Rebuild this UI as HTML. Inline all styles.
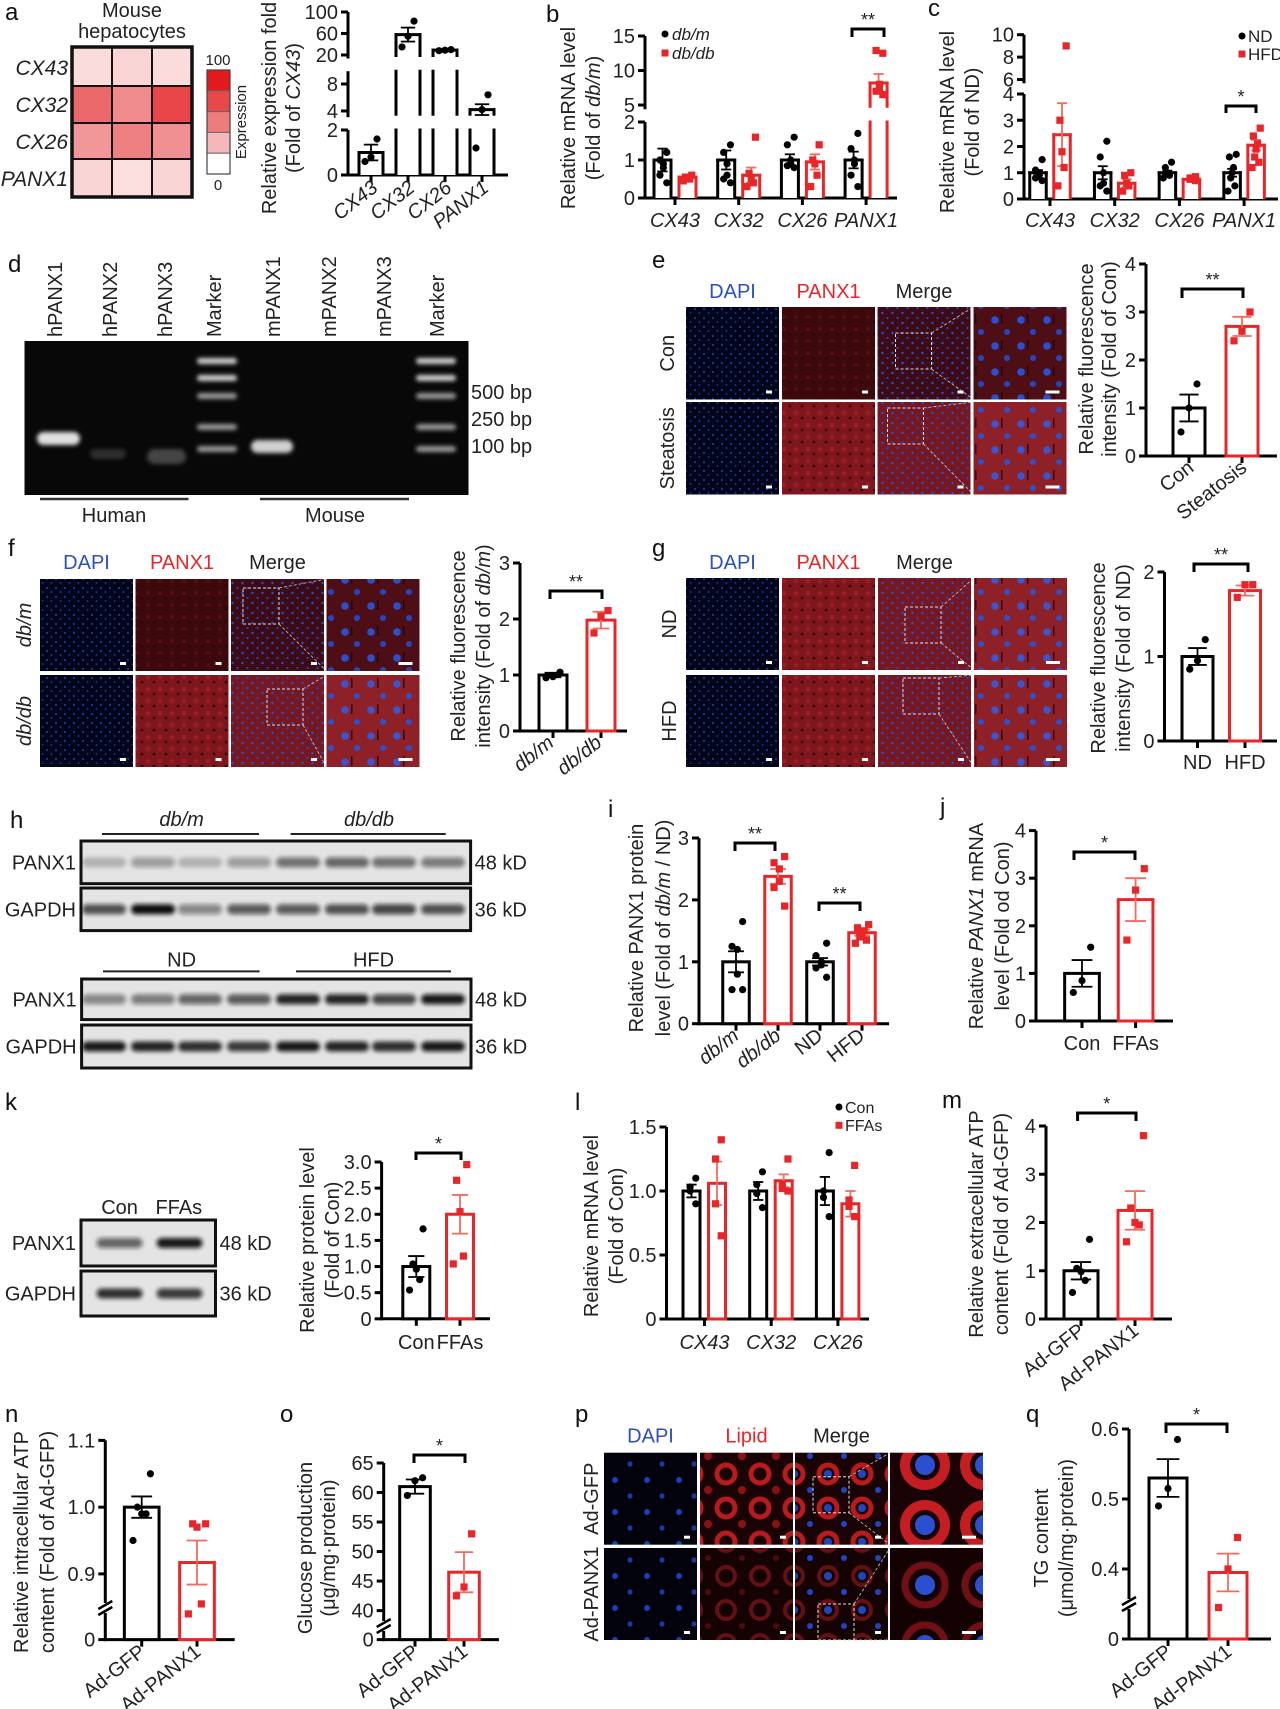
<!DOCTYPE html>
<html><head><meta charset="utf-8"><style>
html,body{margin:0;padding:0;background:#fff;}
svg{display:block;font-family:"Liberation Sans",sans-serif;}
</style></head><body>
<svg id="fig" xmlns="http://www.w3.org/2000/svg" width="1280" height="1709" viewBox="0 0 1280 1709">
<defs>
<filter id="blur3" x="-50%" y="-100%" width="200%" height="300%"><feGaussianBlur stdDeviation="3"/></filter>
<filter id="blur2" x="-50%" y="-100%" width="200%" height="300%"><feGaussianBlur stdDeviation="2"/></filter>
<pattern id="dapi" width="9" height="9" patternUnits="userSpaceOnUse"><rect width="9" height="9" fill="#03061a"/><circle cx="2" cy="3" r="1" fill="#2040b8"/><circle cx="6.5" cy="7" r="0.9" fill="#1c38a8"/></pattern>
<pattern id="panxLo" width="12" height="12" patternUnits="userSpaceOnUse"><rect width="12" height="12" fill="#3e090d"/><circle cx="4" cy="5" r="2" fill="#520d12"/><circle cx="10" cy="10" r="1.2" fill="#2a0406"/></pattern>
<pattern id="panxHi" width="12" height="12" patternUnits="userSpaceOnUse"><rect width="12" height="12" fill="#7e171d"/><circle cx="4" cy="5" r="2.4" fill="#961f25"/><circle cx="10" cy="10" r="1.4" fill="#3a0608"/></pattern>
<pattern id="mergeLo" width="10" height="10" patternUnits="userSpaceOnUse"><rect width="10" height="10" fill="#3c0b15"/><circle cx="2.5" cy="3" r="1.2" fill="#2a4fd0"/><circle cx="7.5" cy="8" r="1.1" fill="#2546c0"/></pattern>
<pattern id="mergeHi" width="10" height="10" patternUnits="userSpaceOnUse"><rect width="10" height="10" fill="#761822"/><circle cx="2.5" cy="3" r="1.2" fill="#2a4fd0"/><circle cx="7.5" cy="8" r="1.1" fill="#2546c0"/></pattern>
<pattern id="zoomLo" width="26" height="26" patternUnits="userSpaceOnUse"><rect width="26" height="26" fill="#4e0e16"/><circle cx="7" cy="8" r="3.8" fill="#2a4fd0"/><circle cx="19" cy="20" r="3" fill="#2546c0"/><rect x="13" y="2" width="1.5" height="10" fill="#2a0508"/></pattern>
<pattern id="zoomHi" width="26" height="26" patternUnits="userSpaceOnUse"><rect width="26" height="26" fill="#8e2028"/><circle cx="7" cy="8" r="3.8" fill="#3a55d0"/><circle cx="19" cy="20" r="3" fill="#3050c8"/><rect x="13" y="2" width="1.5" height="10" fill="#3a0608"/></pattern>
<pattern id="pDapi" width="32" height="32" patternUnits="userSpaceOnUse"><rect width="32" height="32" fill="#02030c"/><circle cx="7" cy="8" r="3" fill="#1e3eb4"/><circle cx="22" cy="24" r="2.6" fill="#1a36a0"/></pattern>
<pattern id="pLipHi" width="34" height="34" patternUnits="userSpaceOnUse"><rect width="34" height="34" fill="#1a0304"/><circle cx="12" cy="12" r="9" fill="none" stroke="#b81a1e" stroke-width="5"/><circle cx="28" cy="28" r="4" fill="#8a1216"/></pattern>
<pattern id="pLipLo" width="34" height="34" patternUnits="userSpaceOnUse"><rect width="34" height="34" fill="#150203"/><circle cx="12" cy="12" r="9" fill="none" stroke="#641014" stroke-width="4"/><circle cx="28" cy="28" r="3" fill="#4e0a0c"/></pattern>
<pattern id="pMergeHi" width="34" height="34" patternUnits="userSpaceOnUse"><rect width="34" height="34" fill="#1a0304"/><circle cx="12" cy="12" r="9" fill="none" stroke="#b81a1e" stroke-width="5"/><circle cx="12" cy="12" r="4" fill="#2244c0"/><circle cx="28" cy="28" r="3" fill="#2244c0"/></pattern>
<pattern id="pMergeLo" width="34" height="34" patternUnits="userSpaceOnUse"><rect width="34" height="34" fill="#150203"/><circle cx="12" cy="12" r="9" fill="none" stroke="#641014" stroke-width="4"/><circle cx="12" cy="12" r="4" fill="#2244c0"/><circle cx="28" cy="28" r="3" fill="#2244c0"/></pattern>
<pattern id="pZoomHi" width="60" height="60" patternUnits="userSpaceOnUse"><rect width="60" height="60" fill="#1a0304"/><circle cx="25" cy="25" r="20" fill="none" stroke="#c41e22" stroke-width="10"/><circle cx="25" cy="25" r="10" fill="#2a4fd0"/></pattern>
<pattern id="pZoomLo" width="60" height="60" patternUnits="userSpaceOnUse"><rect width="60" height="60" fill="#140203"/><circle cx="25" cy="25" r="20" fill="none" stroke="#701014" stroke-width="7"/><circle cx="25" cy="25" r="10" fill="#2a4fd0"/></pattern>
</defs>
</svg>
<script>
// ---------------- DATA ----------------
const hmRows = ['CX43','CX32','CX26','PANX1'];
const hmVals = [[15,18,15],[65,50,80],[45,55,48],[18,14,18]];

const aCats = ['CX43','CX32','CX26','PANX1'];
const aVals = [1, 58, 29, 4.2];
const aErr  = [0.35, 13, 2, 0.8];
const aPts  = [[1.6,0.8,0.6],[83,55,35],[30,29,28],[6.4,4.2,1.2]];

const bCats = ['CX43','CX32','CX26','PANX1'];
const bDbm = [1,1,1,1];
const bDbmErr = [0.3,0.25,0.15,0.22];
const bDbmPts = [[1.2,1.0,0.9,0.8,0.6,0.4],[1.4,1.2,0.9,0.6,0.5,0.4],[1.6,1.4,1.0,0.9,0.85,0.8],[1.7,1.3,1.0,0.9,0.6,0.3]];
const bDbdb = [0.55,0.6,0.95,8.2];
const bDbdbErr = [0.05,0.2,0.2,1.3];
const bDbdbPts = [[0.6,0.55,0.5,0.5,0.45],[1.6,0.65,0.5,0.4,0.3],[1.4,1.0,0.9,0.6,0.3],[12.5,12.9,8,7.5,7,6.5]];

const cCats = ['CX43','CX32','CX26','PANX1'];
const cND = [1,1,1,1];
const cNDErr = [0.1,0.25,0.08,0.15];
const cNDPts = [[1.5,1.1,1.0,0.9,0.8,0.7],[2.2,1.6,1.0,0.6,0.5,0.3],[1.4,1.2,1.0,0.9,0.8],[1.7,1.6,1.2,1.0,0.8,0.5,0.3]];
const cHFD = [2.45,0.6,0.75,2.05];
const cHFDErr = [1.2,0.15,0.05,0.2];
const cHFDPts = [[9,3,1.8,1.2,0.5],[1.0,0.9,0.6,0.5,0.3],[0.85,0.8,0.75,0.7],[2.7,2.4,2.1,1.9,1.6,1.4,1.2]];

const eCats = ['Con','Steatosis'];
const eVals = [1, 2.7];
const eErr = [0.28, 0.2];
const ePts = [[1.5,1.0,0.5],[3.0,2.6,2.4]];

const fCats = ['db/m','db/db'];
const fVals = [1, 1.98];
const fErr = [0.04, 0.15];
const fPts = [[1.05,0.97,0.95],[2.15,2.05,1.75]];

const gCats = ['ND','HFD'];
const gVals = [1, 1.78];
const gErr = [0.1, 0.06];
const gPts = [[1.2,0.95,0.85],[1.85,1.85,1.7]];

const iCats = ['db/m','db/db','ND','HFD'];
const iVals = [1, 2.38, 1.0, 1.47];
const iErr = [0.17, 0.12, 0.06, 0.05];
const iPts = [[1.65,1.25,1.2,0.8,0.55,0.55],[2.7,2.6,2.5,2.3,2.2,1.9],[1.3,1.1,1.0,0.95,0.9,0.75],[1.6,1.55,1.5,1.45,1.4,1.35,1.3]];

const jCats = ['Con','FFAs'];
const jVals = [1, 2.55];
const jErr = [0.28, 0.45];
const jPts = [[1.55,0.85,0.6],[3.2,2.75,1.7]];

const kCats = ['Con','FFAs'];
const kVals = [1, 2.0];
const kErr = [0.2, 0.37];
const kPts = [[1.72,1.05,0.95,0.75,0.55],[2.95,2.65,2.05,1.2,1.05]];

const lCats = ['CX43','CX32','CX26'];
const lCon = [1,1,1];
const lConErr = [0.05,0.07,0.11];
const lConPts = [[1.1,1.03,1.0,0.9],[1.15,1.05,0.98,0.87],[1.3,1.0,0.95,0.8]];
const lFFA = [1.06,1.08,0.9];
const lFFAErr = [0.17,0.05,0.1];
const lFFAPts = [[1.4,1.25,0.9,0.65],[1.25,1.05,1.02,1.0],[1.2,0.93,0.88,0.8]];

const mCats = ['Ad-GFP','Ad-PANX1'];
const mVals = [1, 2.25];
const mErr = [0.18, 0.4];
const mPts = [[1.65,1.05,0.98,0.8,0.55],[3.8,2.3,2.0,1.95,1.6]];

const nCats = ['Ad-GFP','Ad-PANX1'];
const nVals = [1.0, 0.917];
const nErr = [0.016, 0.033];
const nPts = [[1.05,1.0,0.99,0.99,0.95],[0.975,0.975,0.97,0.855,0.84]];

const oCats = ['Ad-GFP','Ad-PANX1'];
const oVals = [61, 46.5];
const oErr = [1.2, 3.4];
const oPts = [[62.5,62,59.5],[53,44,42.5]];

const qCats = ['Ad-GFP','Ad-PANX1'];
const qVals = [0.53, 0.395];
const qErr = [0.027, 0.027];
const qPts = [[0.585,0.515,0.49],[0.445,0.4,0.345]];

const blotP1 = [0.22,0.35,0.22,0.35,0.55,0.6,0.55,0.5];
const blotG1 = [0.7,1.0,0.45,0.65,0.65,0.7,0.75,0.7];
const blotP2 = [0.45,0.5,0.6,0.65,0.9,0.9,0.75,0.95];
const blotG2 = [0.95,0.9,0.85,0.8,0.95,0.9,0.85,0.95];
const blotKP = [0.6,0.95];
const blotKG = [0.85,0.8];

// ---------------- HELPERS ----------------
const NS='http://www.w3.org/2000/svg';
const svg=document.getElementById('fig');
const RED='#e8262a', RED2='#f26b5b';
const FS=20;
function el(tag,attrs,parent){const e=document.createElementNS(NS,tag);for(const k in attrs)e.setAttribute(k,attrs[k]);(parent||svg).appendChild(e);return e;}
function line(p,x1,y1,x2,y2,c,w){return el('line',{x1,y1,x2,y2,stroke:c||'#000','stroke-width':w||3},p);}
function T(p,x,y,s,o){o=o||{};const t=el('text',{x,y,'font-size':o.size||FS,'text-anchor':o.anchor||'start',fill:o.fill||'#222'},p);
 if(o.rot)t.setAttribute('transform','rotate('+o.rot+' '+x+' '+y+')');
 if(o.db)t.setAttribute('dominant-baseline',o.db);
 const parts=s.split(/<i>|<\/i>/);parts.forEach((ps,k)=>{if(!ps)return;const sp=el('tspan',{},t);sp.textContent=ps;if((k%2===1)!==!!o.italic)sp.setAttribute('font-style','italic');});
 return t;}
function segScale(segs){return v=>{let s=segs.find(q=>v>=q.d0&&v<=q.d1);if(!s){s=segs[0];segs.forEach(q=>{if(v>q.d1)s=q;});}return s.y0+(v-s.d0)/(s.d1-s.d0)*(s.y1-s.y0);};}
function letter(x,y,s){const t=T(svg,x,y,s,{size:24,fill:'#111'});}
function ytitle(p,x,y,s){return T(p,x,y,s,{rot:-90,anchor:'middle',db:'central'});}

function drawChart(c){
 const g=el('g',{});
 
 
 const y=segScale(c.segs); const y0=c.segs[0].y0;
 if(c.gap){c.segs.forEach(s=>line(g,c.ax,s.y0+1.5,c.ax,s.y1));}
 else line(g,c.ax,y0+1.5,c.ax,c.segs[c.segs.length-1].y1);
 c.ticks.forEach((t,i)=>{const yy=y(t);line(g,c.ax-7,yy,c.ax,yy);const tl=T(g,c.ax-10,yy+7,c.tickLabels[i],{anchor:'end'});});
 line(g,c.ax-1.5,y0,c.xEnd,y0);
 (c.xticks||[]).forEach(x=>line(g,x,y0,x,y0+7));
 c.bars.forEach(b=>{
  const bg=el('g',{},g);
  
  
  const x0=b.cx-b.w/2,x1=b.cx+b.w/2;
  if(c.gap){c.segs.forEach(s=>{const lo=s.d0,hi=Math.min(b.val,s.d1);if(hi<=lo&&lo>0)return;const ys=v=>s.y0+(v-s.d0)/(s.d1-s.d0)*(s.y1-s.y0);
    const ya=ys(Math.max(lo,0)),yb=ys(hi);el('rect',{x:x0,y:yb,width:b.w,height:ya-yb,fill:'#fff'},bg);
    line(bg,x0,ya,x0,yb-1.5,b.color);line(bg,x1,ya,x1,yb-1.5,b.color);
    if(b.val<=s.d1)line(bg,x0-1.5,yb,x1+1.5,yb,b.color);});}
  else{const yv=y(b.val);el('rect',{x:x0,y:yv,width:b.w,height:y0-yv,fill:'#fff',stroke:b.color,'stroke-width':3},bg);}
  const ec=b.color==='#000'?'#000':RED2;const cw=b.w*0.3;
  const et=y(b.val+b.err),eb=y(b.val-b.err);
  line(bg,b.cx,eb,b.cx,et,ec,1.8);line(bg,b.cx-cw,et,b.cx+cw,et,ec,1.8);line(bg,b.cx-cw,eb,b.cx+cw,eb,ec,1.8);
  const n=b.pts.length;b.pts.forEach((v,i)=>{const off=n>1?(i/(n-1)-0.5)*b.w*0.5*((i%2)?1:-1):0;const px=b.cx+off,py=y(v);
   let d;if(b.color==='#000')d=el('circle',{cx:px,cy:py,r:3.6,fill:'#000'},bg);else d=el('rect',{x:px-3.6,y:py-3.6,width:7.2,height:7.2,fill:RED},bg);
   });
 });
 if(c.slashY){const s=c.slashY;el('rect',{x:c.ax-3,y:s-5,width:6,height:10,fill:'#fff'},g);line(g,c.ax-7,s+1,c.ax+7,s-7,'#000',2.5);line(g,c.ax-7,s+7,c.ax+7,s-1,'#000',2.5);}
 (c.sig||[]).forEach(s=>{const p=el('path',{d:`M${s.x1} ${s.y+s.drop}V${s.y}H${s.x2}V${s.y+s.drop}`,fill:'none',stroke:'#000','stroke-width':3},g);
   
   T(g,(s.x1+s.x2)/2,s.y-3,s.label,{anchor:'middle',size:18});});
 (c.labels||[]).forEach(l=>{const t=T(g,l.x,l.y,l.t,{anchor:l.anchor||'middle',rot:l.rot,italic:l.italic});});
 c.titles.forEach(t=>ytitle(g,t[0],t[1],t[2]));
 return g;
}
function simpleBars(cats,vals,errs,pts,cx0,step,w,colors){return cats.map((k,i)=>({name:k,cx:cx0+i*step,w,color:colors[i],val:vals[i],err:errs[i],pts:pts[i]}));}
function groupBars(cats,series,gx0,gstep,offs,w){const out=[];cats.forEach((k,i)=>series.forEach((s,j)=>out.push({name:k+'-'+s.n,cx:gx0+i*gstep+offs[j],w,color:s.c,val:s.v[i],err:s.e[i],pts:s.p[i]})));return out;}
function rotLabels(cats,cx0,step,y,italicFn,dx){return cats.map((k,i)=>({t:k,x:cx0+i*step+(dx||4),y,rot:-38,anchor:'end',italic:italicFn?italicFn(k):false}));}
function hLabels(cats,cx0,step,y,italic){return cats.map((k,i)=>({t:k,x:cx0+i*step,y,italic}));}

// ---------------- PANEL A ----------------
letter(5,20,'a');
{const g=el('g',{});
 T(g,132,17,'Mouse',{anchor:'middle',size:20});T(g,132,38,'hepatocytes',{anchor:'middle',size:20});
 const cx=[72,112,152,192],ry=[47,86,123,159,197];
 hmVals.forEach((row,r)=>row.forEach((v,k)=>{const f=v/100;const col=`rgb(${Math.round(255-(255-226)*f)},${Math.round(255-(255-24)*f)},${Math.round(255-(255-28)*f)})`;
  const c=el('rect',{x:cx[k],y:ry[r],width:cx[k+1]-cx[k],height:ry[r+1]-ry[r],fill:col,stroke:'#111','stroke-width':2},g);
  }));
 el('rect',{x:72,y:47,width:120,height:150,fill:'none',stroke:'#111','stroke-width':3.5},g);
 hmRows.forEach((r,k)=>T(g,68,[75,112,149,186][k],r,{anchor:'end',italic:true,size:21}));
 const cb=['#e31a1c','#e84848','#ee7c7c','#f4b8ba','#ffffff'];
 cb.forEach((c,k)=>el('rect',{x:207,y:70+k*20.8,width:23,height:20.8,fill:c,stroke:'#666','stroke-width':1},g));
 el('rect',{x:207,y:70,width:23,height:104,fill:'none',stroke:'#444','stroke-width':1.2},g);
 T(g,218,65,'100',{anchor:'middle',size:15});T(g,218,190,'0',{anchor:'middle',size:15});
 T(g,241,122,'Expression',{rot:-90,anchor:'middle',db:'central',size:15});
}
drawChart({name:'chart-a',ax:348,xEnd:508,gap:true,
 segs:[{d0:0,d1:2,y0:175,y1:130},{d0:3.3,d1:9.9,y0:115.7,y1:71.2},{d0:16.3,d1:100,y0:57,y1:12}],
 ticks:[0,2,4,8,20,60,100],tickLabels:['0','2','4','8','20','60','100'],
 bars:simpleBars(aCats,aVals,aErr,aPts,371,37,24,['#000','#000','#000','#000']),
 xticks:[371,408,445,482],
 labels:rotLabels(aCats,371,37,190,()=>true,8),
 titles:[[270,108,'Relative expression fold'],[294,108,'(Fold of <i>CX43</i>)']]});

// ---------------- PANEL B ----------------
letter(546,22,'b');
drawChart({name:'chart-b',ax:645,xEnd:897,gap:true,
 segs:[{d0:0,d1:2,y0:198,y1:122},{d0:4.6,d1:15,y0:107.8,y1:36}],
 ticks:[0,1,2,5,10,15],tickLabels:['0','1','2','5','10','15'],
 bars:groupBars(bCats,[{n:'dbm',c:'#000',v:bDbm,e:bDbmErr,p:bDbmPts},{n:'dbdb',c:RED,v:bDbdb,e:bDbdbErr,p:bDbdbPts}],675,63.7,[-12.5,12.5],17),
 xticks:[675,738.7,802.4,866.1],
 sig:[{x1:852,x2:884,y:29,drop:8,label:'**'}],
 labels:hLabels(bCats,675,63.7,227,true),
 titles:[[569,118,'Relative mRNA level'],[594,118,'(Fold of <i>db/m</i>)']]});
{const g=el('g',{});
 el('circle',{cx:665,cy:34,r:3.5,fill:'#000'},g);T(g,672,40,'db/m',{italic:true,size:17});
 el('rect',{x:661.5,y:49.5,width:7,height:7,fill:RED},g);T(g,672,59,'db/db',{italic:true,size:17});}

// ---------------- PANEL C ----------------
letter(928,16,'c');
drawChart({name:'chart-c',ax:1024,xEnd:1278,gap:true,
 segs:[{d0:0,d1:4,y0:199,y1:94},{d0:5.8,d1:10,y0:81.8,y1:34.7}],
 ticks:[0,1,2,3,4,6,8,10],tickLabels:['0','1','2','3','4','6','8','10'],
 bars:groupBars(cCats,[{n:'nd',c:'#000',v:cND,e:cNDErr,p:cNDPts},{n:'hfd',c:RED,v:cHFD,e:cHFDErr,p:cHFDPts}],1050,64.7,[-12,12],16.5),
 xticks:[1050,1114.7,1179.4,1244.1],
 sig:[{x1:1226,x2:1256,y:106,drop:7,label:'*'}],
 labels:hLabels(cCats,1050,64.7,227,true),
 titles:[[948,122,'Relative mRNA level'],[973,122,'(Fold of ND)']]});
{const g=el('g',{});
 el('circle',{cx:1242,cy:36,r:3.5,fill:'#000'},g);T(g,1248,42,'ND',{size:17});
 el('rect',{x:1238.5,y:50.5,width:7,height:7,fill:RED},g);T(g,1248,60,'HFD',{size:17});}

// ---------------- PANEL D (gel) ----------------
letter(8,272,'d');
{const g=el('g',{});
 const lanes=['hPANX1','hPANX2','hPANX3','Marker','mPANX1','mPANX2','mPANX3','Marker'];
 const lx=[55,110,165,214,273,329,384,437];
 lanes.forEach((l,k)=>{const t=T(g,lx[k]+7,337,l,{rot:-90,size:20});});
 el('rect',{x:24.5,y:341,width:444,height:154,fill:'#080808'},g);
 const band=(x,y,w,h,c)=>el('rect',{x,y,width:w,height:h,rx:h/2,fill:c,filter:'url(#blur2)'},g);
 band(37,432,43,13,'#e0e0e0');band(90,449,36,10,'#2e2e2e');band(147,449,39,15,'#444');band(251,440,42,13,'#d0d0d0');
 [361,378,396,427,449].forEach((yy,k)=>{band(197,yy-3,40,6,k<2?'#d0d0d0':'#999');band(416,yy-3,40,6,k<2?'#d0d0d0':'#999');});
 [['500 bp',399],['250 bp',426],['100 bp',453]].forEach(a=>T(g,471,a[1],a[0],{size:20}));
 line(g,40,499,188.5,499,'#333',2.5);line(g,260,499,409,499,'#333',2.5);
 T(g,114,522,'Human',{anchor:'middle',size:20});T(g,335,522,'Mouse',{anchor:'middle',size:20});
}

// ---------------- MICROGRAPHS ----------------
function micro(name,cols,rows,w,h,fills,boxes,headers,headY,rowLabels,rowLabX,rowItalic){
 const g=el('g',{});
 const hc=['#2b4fc0','#e8262a','#222'];
 headers.forEach((hd,k)=>T(g,cols[k]+w/2,headY,hd,{anchor:'middle',size:20,fill:hc[k]}));
 rows.forEach((ry,r)=>{cols.forEach((cx,k)=>{const im=el('rect',{x:cx,y:ry,width:w,height:h,fill:'url(#'+fills[r][k]+')'},g);
   
   const sb=k===3?14:6;el('rect',{x:cx+w-sb-7,y:ry+h-9,width:sb,height:3,fill:'#fff'},g);});
  const b=boxes[r];const dx=cols[2]+b[0],dy=ry+b[1];
  el('rect',{x:dx,y:dy,width:36,height:36,fill:'none',stroke:'#ddd','stroke-width':1,'stroke-dasharray':'3,2'},g);
  line(g,dx+36,dy,cols[3],ry,'#ccc',0.8).setAttribute('stroke-dasharray','3,2');
  line(g,dx+36,dy+36,cols[3],ry+h,'#ccc',0.8).setAttribute('stroke-dasharray','3,2');
  T(g,rowLabX,ry+h/2,rowLabels[r],{rot:-90,anchor:'middle',db:'central',size:20,italic:rowItalic});
 });
}
letter(652,268,'e');
micro('micrographs-e',[686,782,877.5,973.5],[307,402],93,92.5,[['dapi','panxLo','mergeLo','zoomLo'],['dapi','panxHi','mergeHi','zoomHi']],[[18,26],[10,6]],['DAPI','PANX1','Merge'],298,['Con','Steatosis'],668,false);
drawChart({name:'chart-e',ax:1146,xEnd:1277,segs:[{d0:0,d1:4,y0:456,y1:264}],
 ticks:[0,1,2,3,4],tickLabels:['0','1','2','3','4'],
 bars:simpleBars(eCats,eVals,eErr,ePts,1189,53,32,['#000',RED]),xticks:[1189,1242],
 sig:[{x1:1182,x2:1243,y:289,drop:9,label:'**'}],
 labels:rotLabels(eCats,1189,53,470,null,6),
 titles:[[1087,359,'Relative fluorescence'],[1110,359,'intensity (Fold of Con)']]});

letter(8,556,'f');
micro('micrographs-f',[40,135.5,231,326.5],[579,675],93,92,[['dapi','panxLo','mergeLo','zoomLo'],['dapi','panxHi','mergeHi','zoomHi']],[[12,9],[36,14]],['DAPI','PANX1','Merge'],569,['db/m','db/db'],25,true);
drawChart({name:'chart-f',ax:520,xEnd:627,segs:[{d0:0,d1:3,y0:731,y1:563}],
 ticks:[0,1,2,3],tickLabels:['0','1','2','3'],
 bars:simpleBars(fCats,fVals,fErr,fPts,553,48,28,['#000',RED]),xticks:[553,601],
 sig:[{x1:550,x2:602,y:591,drop:8,label:'**'}],
 labels:rotLabels(fCats,553,48,745,()=>true,2),
 titles:[[459,646,'Relative fluorescence'],[484,646,'intensity (Fold of <i>db/m</i>)']]});

letter(652,556,'g');
micro('micrographs-g',[686,782,878,974],[578,675],93,92,[['dapi','panxHi','mergeHi','zoomHi'],['dapi','panxHi','mergeHi','zoomHi']],[[27,29],[25,3]],['DAPI','PANX1','Merge'],569,['ND','HFD'],670,false);
drawChart({name:'chart-g',ax:1164.5,xEnd:1277,segs:[{d0:0,d1:2,y0:741,y1:572}],
 ticks:[0,1,2],tickLabels:['0','1','2'],
 bars:simpleBars(gCats,gVals,gErr,gPts,1197.5,47.5,31,['#000',RED]),xticks:[1197.5,1245],
 sig:[{x1:1194,x2:1248,y:564,drop:8,label:'**'}],
 labels:hLabels(gCats,1197.5,47.5,769,false),
 titles:[[1099,658,'Relative fluorescence'],[1124,658,'intensity (Fold of ND)']]});

// ---------------- PANEL H (blots) ----------------
letter(10,828,'h');
function blot(g,x,y,w,h,vals,lanes,bw,label,kd){
 const b=el('rect',{x,y,width:w,height:h,fill:'#e4e4e4',stroke:'#111','stroke-width':3},g);
 
 vals.forEach((v,k)=>el('rect',{x:lanes[k]-bw/2,y:y+h/2-5,width:bw,height:10,rx:5,fill:'#111','fill-opacity':v,filter:'url(#blur2)'},g));
 T(g,x-5,y+h/2+7,label,{anchor:'end',size:20});T(g,x+w+4,y+h/2+7,kd,{size:20});
}
{const g=el('g',{});
 const lanes=[104,153,200,249,298,347,394,443];
 T(g,181.6,826,'db/m',{anchor:'middle',size:20,italic:true});line(g,102,834,259,834,'#222',2);
 T(g,369,826,'db/db',{anchor:'middle',size:20,italic:true});line(g,290.6,834,445.7,834,'#222',2);
 blot(g,81,841,389.6,42.7,blotP1,lanes,44,'PANX1','48 kD');
 blot(g,81,888,389.6,42.6,blotG1,lanes,44,'GAPDH','36 kD');
 T(g,181.6,966.5,'ND',{anchor:'middle',size:20});line(g,103,971.4,259.6,971.4,'#222',2);
 T(g,373.5,966.5,'HFD',{anchor:'middle',size:20});line(g,296,971.4,451,971.4,'#222',2);
 blot(g,81.6,979,389.4,40.6,blotP2,lanes,44,'PANX1','48 kD');
 blot(g,81.6,1025,389.4,43,blotG2,lanes,44,'GAPDH','36 kD');
}

// ---------------- PANEL I, J ----------------
letter(608,817,'i');
drawChart({name:'chart-i',ax:699,xEnd:889,segs:[{d0:0,d1:3,y0:1023.7,y1:838}],
 ticks:[0,1,2,3],tickLabels:['0','1','2','3'],
 bars:simpleBars(iCats,iVals,iErr,iPts,736,42,26.5,['#000',RED,'#000',RED]),xticks:[736,778,820,862],
 sig:[{x1:735,x2:775,y:843,drop:8,label:'**'},{x1:819,x2:860,y:903,drop:8,label:'**'}],
 labels:rotLabels(iCats,736,42,1038,k=>k.indexOf('db')===0,4),
 titles:[[637,928,'Relative PANX1 protein'],[664,928,'level (Fold of <i>db/m</i> / ND)']]});

letter(940,815,'j');
drawChart({name:'chart-j',ax:1036,xEnd:1173,segs:[{d0:0,d1:4,y0:1021,y1:830.6}],
 ticks:[0,1,2,3,4],tickLabels:['0','1','2','3','4'],
 bars:simpleBars(jCats,jVals,jErr,jPts,1082,53.6,34.7,['#000',RED]),xticks:[1082,1135.6],
 sig:[{x1:1074,x2:1135,y:852,drop:8,label:'*'}],
 labels:hLabels(jCats,1082,53.6,1050,false),
 titles:[[977,926,'Relative <i>PANX1</i> mRNA'],[1003,926,'level  (Fold od Con)']]});

// ---------------- PANEL K ----------------
letter(5,1110,'k');
{const g=el('g',{});
 T(g,119.6,1214,'Con',{anchor:'middle',size:20});T(g,178.8,1214,'FFAs',{anchor:'middle',size:20});
 blot(g,81,1220,134.5,46,blotKP,[119.6,179.6],46,'PANX1','48 kD');
 blot(g,81,1271,134.5,45,blotKG,[119.6,179.6],46,'GAPDH','36 kD');}
drawChart({name:'chart-k',ax:381.6,xEnd:490,segs:[{d0:0,d1:3,y0:1318.8,y1:1162}],
 ticks:[0,0.5,1,1.5,2,2.5,3],tickLabels:['0','0.5','1.0','1.5','2.0','2.5','3.0'],
 bars:simpleBars(kCats,kVals,kErr,kPts,416.3,43.7,27,['#000',RED]),xticks:[416.3,460],
 sig:[{x1:416,x2:461,y:1153,drop:7,label:'*'}],
 labels:hLabels(kCats,416.3,43.7,1349,false),
 titles:[[308,1240,'Relative protein level'],[333,1240,'(Fold of Con)']]});

// ---------------- PANEL L, M ----------------
letter(575,1110,'l');
drawChart({name:'chart-l',ax:666.5,xEnd:869,segs:[{d0:0,d1:1.5,y0:1319,y1:1127}],
 ticks:[0,0.5,1,1.5],tickLabels:['0','0.5','1.0','1.5'],
 bars:groupBars(lCats,[{n:'con',c:'#000',v:lCon,e:lConErr,p:lConPts},{n:'ffas',c:RED,v:lFFA,e:lFFAErr,p:lFFAPts}],704.5,66.7,[-13,12.5],17),
 xticks:[704.5,771.2,837.9],
 labels:hLabels(lCats,704.5,66.7,1349,true),
 titles:[[592,1226,'Relative mRNA level'],[617,1226,'(Fold of Con)']]});
{const g=el('g',{});
 el('circle',{cx:839,cy:1107,r:3.5,fill:'#000'},g);T(g,845,1113,'Con',{size:16});
 el('rect',{x:835.5,y:1121.8,width:7,height:7,fill:RED},g);T(g,845,1131,'FFAs',{size:16});}

letter(942,1108,'m');
drawChart({name:'chart-m',ax:1046,xEnd:1172,segs:[{d0:0,d1:4,y0:1319,y1:1126}],
 ticks:[0,1,2,3,4],tickLabels:['0','1','2','3','4'],
 bars:simpleBars(mCats,mVals,mErr,mPts,1081,54,34,['#000',RED]),xticks:[1081,1135],
 sig:[{x1:1077.6,x2:1136,y:1113,drop:8,label:'*'}],
 labels:rotLabels(mCats,1081,54,1333,null,5),
 titles:[[977,1224,'Relative extracellular ATP'],[1002,1224,'content (Fold of Ad-GFP)']]});

// ---------------- PANEL N, O ----------------
letter(5,1422,'n');
drawChart({name:'chart-n',ax:105.3,xEnd:234.7,slashY:1608,
 segs:[{d0:0,d1:0.83,y0:1639.6,y1:1620.6},{d0:0.83,d1:1.1,y0:1620.6,y1:1440.4}],
 ticks:[0,0.9,1.0,1.1],tickLabels:['0','0.9','1.0','1.1'],
 bars:simpleBars(nCats,nVals,nErr,nPts,141.7,55.3,34.7,['#000',RED]),xticks:[141.7,197],
 labels:rotLabels(nCats,141.7,55.3,1654,null,5),
 titles:[[22,1542,'Relative intracellular ATP'],[48,1542,'content (Fold of Ad-GFP)']]});

letter(280,1422,'o');
drawChart({name:'chart-o',ax:383.7,xEnd:499,slashY:1626,
 segs:[{d0:0,d1:38,y0:1639.6,y1:1622.4},{d0:38,d1:65,y0:1622.4,y1:1463}],
 ticks:[0,40,45,50,55,60,65],tickLabels:['0','40','45','50','55','60','65'],
 bars:simpleBars(oCats,oVals,oErr,oPts,415,49,30.6,['#000',RED]),xticks:[415,464],
 sig:[{x1:414,x2:465,y:1455,drop:8,label:'*'}],
 labels:rotLabels(oCats,415,49,1654,null,5),
 titles:[[306,1548,'Glucose production'],[329,1548,'(μg/mg·protein)']]});

// ---------------- PANEL P, Q ----------------
letter(575,1422,'p');
micro('micrographs-p',[604,700,795,890],[1452.7,1548],93,92,[['pDapi','pLipHi','pMergeHi','pZoomHi'],['pDapi','pLipLo','pMergeLo','pZoomLo']],[[18,24],[23,56]],['DAPI','Lipid','Merge'],1442.5,['Ad-GFP','Ad-PANX1'],592,false);

letter(1026,1422,'q');
drawChart({name:'chart-q',ax:1129,xEnd:1271,slashY:1604,
 segs:[{d0:0,d1:0.34,y0:1639,y1:1611},{d0:0.34,d1:0.6,y0:1611,y1:1429}],
 ticks:[0,0.4,0.5,0.6],tickLabels:['0','0.4','0.5','0.6'],
 bars:simpleBars(qCats,qVals,qErr,qPts,1168,60,38,['#000',RED]),xticks:[1168,1228],
 sig:[{x1:1166,x2:1227,y:1424,drop:9,label:'*'}],
 labels:rotLabels(qCats,1168,60,1654,null,5),
 titles:[[1042,1538,'TG content'],[1067,1538,'(μmol/mg·protein)']]});
</script>
</body></html>
